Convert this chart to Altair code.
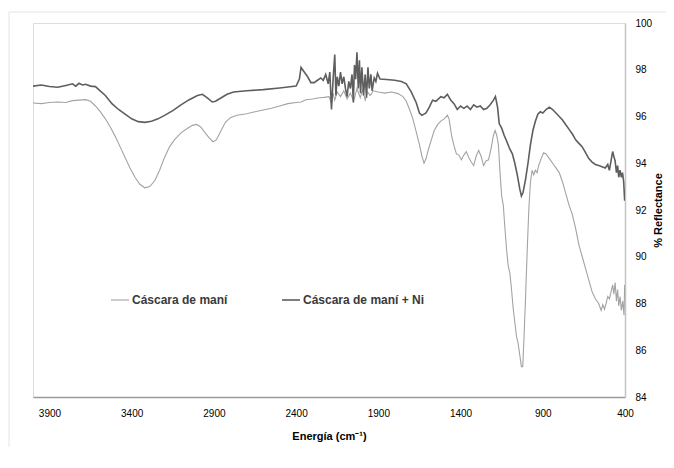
import altair as alt
import pandas as pd

# ---- data ----
series_names = ["Cáscara de maní", "Cáscara de maní + Ni"]

wn_plain = [4000, 3950, 3900, 3850, 3800, 3760, 3720, 3680, 3650, 3620, 3590, 3560, 3530, 3500, 3470, 3440,
            3410, 3380, 3350, 3320, 3290, 3260, 3230, 3200, 3170, 3140, 3100, 3060, 3030, 3005, 2980, 2955,
            2930, 2905, 2885, 2860, 2830, 2800, 2760, 2700, 2650, 2600, 2550, 2500, 2450, 2400, 2370, 2340,
            2300, 2260, 2230, 2200, 2185, 2175, 2165, 2150, 2130, 2110, 2090, 2070, 2050, 2030, 2010, 1995,
            1980, 1965, 1950, 1930, 1900, 1860, 1820, 1780, 1750, 1730, 1710, 1690, 1670, 1650, 1635, 1622,
            1610, 1595, 1580, 1560, 1540, 1520, 1500, 1480, 1470, 1455, 1440, 1425, 1410, 1395, 1380, 1365,
            1350, 1335, 1320, 1305, 1290, 1275, 1260, 1245, 1230, 1215, 1200, 1190, 1180, 1170, 1160, 1150,
            1140, 1130, 1120, 1110, 1100, 1090, 1080, 1070, 1060, 1050, 1040, 1030, 1022, 1015, 1005, 995,
            985, 975, 965, 955, 945, 935, 925, 910, 895, 880, 860, 840, 820, 800, 780, 760,
            740, 720, 700, 680, 660, 640, 620, 600, 580, 560, 545, 535, 525, 515, 505, 495,
            485, 475, 468, 460, 452, 445, 438, 430, 422, 414, 406, 402]
r_plain = [96.58, 96.55, 96.60, 96.62, 96.60, 96.68, 96.70, 96.72, 96.65, 96.45, 96.20, 95.90, 95.55, 95.15, 94.70, 94.25,
           93.80, 93.40, 93.10, 92.95, 93.00, 93.25, 93.70, 94.25, 94.70, 95.00, 95.30, 95.50, 95.62, 95.66, 95.55, 95.32,
           95.10, 94.92, 95.00, 95.35, 95.75, 95.95, 96.05, 96.12, 96.20, 96.28, 96.35, 96.45, 96.55, 96.60, 96.62, 96.72,
           96.75, 96.80, 96.82, 96.85, 96.55, 97.00, 96.70, 97.05, 96.85, 97.10, 96.75, 97.00, 96.65, 97.20, 96.80, 97.15,
           96.70, 97.05, 96.90, 97.10, 97.05, 97.00, 97.05, 96.98, 96.85, 96.65, 96.30, 95.90, 95.35, 94.80, 94.30, 94.00,
           94.20, 94.60, 94.95, 95.40, 95.65, 95.80, 95.90, 96.05, 95.90, 95.20, 94.75, 94.40, 94.35, 94.15, 94.35, 94.50,
           94.25, 94.05, 93.90, 94.30, 94.55, 94.30, 93.90, 94.10, 94.15, 94.60, 95.20, 95.40, 95.20, 94.80, 93.60, 92.60,
           92.20, 91.20, 90.30, 89.60, 89.30, 88.60, 87.80, 87.20, 86.60, 86.30, 85.80, 85.30, 85.30, 86.40, 88.20, 90.20,
           92.00, 93.20, 93.70, 93.50, 93.70, 93.60, 93.90, 94.20, 94.45, 94.40, 94.20, 94.00, 93.80, 93.60, 93.20, 92.70,
           92.20, 91.80, 91.20, 90.50, 90.00, 89.50, 89.00, 88.50, 88.20, 88.00, 87.70, 87.95, 87.75, 88.00, 88.30, 88.20,
           88.50, 88.80, 88.40, 88.90, 88.10, 88.60, 87.90, 88.30, 87.70, 88.10, 87.50, 88.80]

wn_ni = [4000, 3950, 3900, 3850, 3800, 3760, 3740, 3720, 3700, 3680, 3650, 3620, 3600, 3560, 3520, 3480,
         3440, 3400, 3360, 3320, 3280, 3240, 3200, 3150, 3100, 3050, 3000, 2970, 2940, 2910, 2890, 2860,
         2820, 2780, 2700, 2600, 2500, 2450, 2400, 2380, 2370, 2355, 2330, 2310, 2290, 2270, 2250, 2235,
         2220, 2205, 2195, 2185, 2175, 2165, 2158, 2150, 2140, 2130, 2120, 2110, 2100, 2090, 2080, 2070,
         2060, 2052, 2045, 2038, 2030, 2022, 2015, 2008, 2000, 1990, 1980, 1972, 1963, 1955, 1945, 1938,
         1925, 1915, 1905, 1890, 1850, 1800, 1760, 1730, 1700, 1670, 1650, 1635, 1610, 1590, 1570, 1550,
         1520, 1500, 1480, 1460, 1440, 1420, 1400, 1380, 1360, 1340, 1320, 1300, 1280, 1260, 1240, 1220,
         1200, 1188, 1175, 1165, 1150, 1135, 1120, 1100, 1085, 1070, 1055, 1040, 1030, 1020, 1005, 990,
         975, 960, 945, 930, 915, 900, 880, 860, 840, 820, 800, 780, 760, 740, 720, 700,
         680, 660, 640, 620, 600, 580, 560, 540, 520, 505, 495, 485, 475, 468, 460, 452,
         445, 438, 430, 422, 415, 408, 402]
r_ni = [97.30, 97.35, 97.28, 97.25, 97.33, 97.40, 97.30, 97.42, 97.35, 97.38, 97.30, 97.28, 97.15, 96.90, 96.55, 96.30,
        96.10, 95.90, 95.78, 95.75, 95.80, 95.90, 96.05, 96.25, 96.50, 96.72, 96.90, 96.95, 96.80, 96.62, 96.65, 96.78,
        96.95, 97.05, 97.10, 97.15, 97.22, 97.26, 97.30, 97.60, 98.10, 97.95, 97.70, 97.45, 97.45, 97.55, 97.65, 97.55,
        97.80, 97.40, 97.90, 96.30, 97.60, 98.65, 96.90, 97.70, 97.30, 97.90, 97.40, 97.70, 97.20, 96.85, 97.50, 97.20,
        97.80, 96.60, 98.20, 97.60, 98.75, 97.20, 98.40, 97.00, 98.10, 96.90, 97.80, 96.80, 98.10, 97.20, 97.80, 97.10,
        97.65, 97.50, 97.85, 97.60, 97.58, 97.55, 97.50, 97.40, 97.05, 96.60, 96.15, 96.05, 96.15, 96.40, 96.70, 96.65,
        96.85, 96.80, 96.95, 96.70, 96.55, 96.30, 96.45, 96.35, 96.45, 96.30, 96.50, 96.40, 96.45, 96.30, 96.35, 96.50,
        96.70, 96.85, 96.40, 95.70, 95.50, 95.20, 94.95, 94.60, 94.40, 94.00, 93.50, 92.90, 92.60, 92.75, 93.30, 94.00,
        94.80, 95.40, 95.80, 96.10, 96.20, 96.15, 96.30, 96.40, 96.30, 96.15, 96.00, 95.85, 95.65, 95.45, 95.25, 95.00,
        94.85, 94.70, 94.45, 94.20, 94.05, 93.95, 93.90, 93.85, 93.80, 93.95, 93.70, 94.10, 94.50, 94.30, 94.10, 93.60,
        93.90, 93.40, 93.70, 93.40, 93.60, 93.20, 92.40]

x_ticks = [3900, 3400, 2900, 2400, 1900, 1400, 900, 400]
y_ticks = [84, 86, 88, 90, 92, 94, 96, 98, 100]

df = pd.concat([
    pd.DataFrame({"wn": wn_plain, "r": r_plain, "serie": series_names[0]}),
    pd.DataFrame({"wn": wn_ni, "r": r_ni, "serie": series_names[1]}),
], ignore_index=True)

FONT = "Liberation Sans"
W, H = 592, 374

lines = alt.Chart(df).mark_line(clip=True).encode(
    x=alt.X("wn:Q",
            scale=alt.Scale(domain=[400, 4000], reverse=True, nice=False, zero=False),
            axis=alt.Axis(values=x_ticks, format="d", title="Energía (cm⁻¹)", grid=False, ticks=False,
                          labelPadding=11, titlePadding=12, domainColor="#9a9a9a", domainWidth=1.5,
                          labelFlush=False)),
    y=alt.Y("r:Q",
            scale=alt.Scale(domain=[84, 100], nice=False, zero=False),
            axis=alt.Axis(orient="right", values=y_ticks, format="d", title="% Reflectance", grid=False,
                          ticks=False, labelPadding=10, titlePadding=1, titleAngle=270,
                          titleBaseline="top", domainColor="#c4c4c4", domainWidth=1.5)),
    color=alt.Color("serie:N",
                    scale=alt.Scale(domain=series_names, range=["#a3a3a3", "#5e5e5e"]),
                    legend=alt.Legend(title=None, orient="none", direction="horizontal",
                                      legendX=77, legendY=267, symbolType="stroke",
                                      symbolSize=324, symbolStrokeWidth=1.3, labelOffset=2,
                                      columnPadding=50, padding=0, labelFontSize=12,
                                      labelFontWeight="bold", labelColor="#3a3a3a", labelFont=FONT)),
    strokeWidth=alt.StrokeWidth("serie:N",
                                scale=alt.Scale(domain=series_names, range=[1.1, 1.6]),
                                legend=None),
    order=alt.Order("serie:N"),
)

frame = alt.Chart(pd.DataFrame({"k": [0]})).mark_rect(
    fill=None, stroke="#e4e4e4", strokeWidth=1, clip=False
).encode(x=alt.value(-24), x2=alt.value(700), y=alt.value(-11), y2=alt.value(436))

chart = alt.layer(frame, lines).properties(
    width=W, height=H,
    autosize=alt.AutoSizeParams(type="none"),
    padding={"left": 25, "top": 15, "right": 41, "bottom": 50},
).configure_view(stroke=None).configure_axis(
    labelFont=FONT, titleFont=FONT, labelFontSize=11.5, titleFontSize=12,
    labelFontWeight="bold", titleFontWeight="bold", labelColor="#3a3a3a", titleColor="#3a3a3a",
).configure(background="white")

chart.save("out.html", embed_options={"renderer": "svg", "actions": False})
